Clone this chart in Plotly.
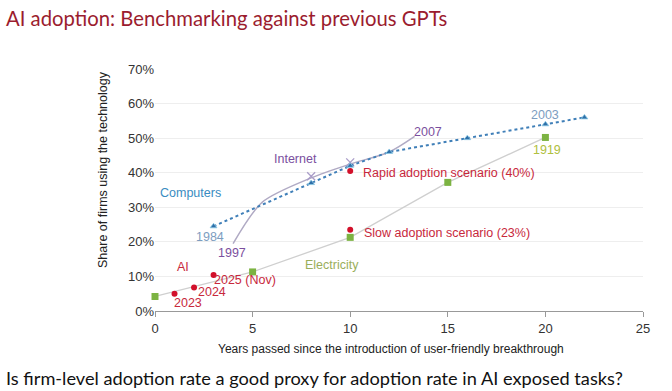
import plotly.graph_objects as go

# ---- data ----
computers_x = [3, 8, 10, 12, 16, 20, 22]
computers_y = [24.5, 37, 42, 46, 50, 54, 56]

internet_x = [4, 5.5, 8, 10, 12, 13.3]
internet_y = [19.5, 31.5, 38.5, 42.5, 46, 50.5]
internet_mark_x = [8, 10]
internet_mark_y = [39, 43]

electricity_x = [0, 5, 10, 15, 20]
electricity_y = [4.2, 11.3, 21.3, 37.2, 50.2]

ai_x = [1, 2, 3]
ai_y = [5, 6.8, 10.4]
scenario_x = [10, 10]
scenario_y = [40.5, 23.5]

y_ticks = [0, 10, 20, 30, 40, 50, 60, 70]
y_tick_labels = ["0%", "10%", "20%", "30%", "40%", "50%", "60%", "70%"]
x_ticks = [0, 5, 10, 15, 20, 25]

# text labels: (text, x, y, color, anchor)
labels = [
    ("Computers", 1.8, 34.1, "#3a8cc1", "center"),
    ("1984", 2.8, 21.4, "#7d9dbf", "center"),
    ("2003", 20.0, 56.6, "#7d9dbf", "center"),
    ("Internet", 7.2, 43.9, "#7b4f9e", "center"),
    ("1997", 3.95, 16.8, "#7b4f9e", "center"),
    ("2007", 14.0, 51.9, "#7b4f9e", "center"),
    ("Electricity", 9.05, 13.3, "#9aae5a", "center"),
    ("1900", -0.1, 6.9, "#b0c040", "center"),
    ("1919", 20.1, 46.6, "#b0c040", "center"),
    ("AI", 1.45, 12.8, "#c8283c", "center"),
    ("2023", 1.7, 2.3, "#c8283c", "center"),
    ("2024", 2.9, 5.5, "#c8283c", "center"),
    ("2025 (Nov)", 4.6, 9.0, "#c8283c", "center"),
    ("Rapid adoption scenario (40%)", 10.55, 40.0, "#c8283c", "left"),
    ("Slow adoption scenario (23%)", 10.6, 22.7, "#c8283c", "left"),
]

W, H = 672, 391
L, R, T, B = 155, 29, 69, 80
PW, PH = W - L - R, H - T - B


def px(xp):
    return (xp - L) / PW


def py(yp):
    return (H - B - yp) / PH


fig = go.Figure()

fig.add_trace(go.Scatter(
    x=electricity_x, y=electricity_y, mode="lines+markers",
    line=dict(color="#cfcfcf", width=1.3),
    marker=dict(symbol="square", size=7, color="#7cb342"),
    cliponaxis=False, showlegend=False))

fig.add_trace(go.Scatter(
    x=internet_x, y=internet_y, mode="lines",
    line=dict(color="#b0aac4", width=1.5, shape="spline", smoothing=0.8),
    cliponaxis=False, showlegend=False))

fig.add_trace(go.Scatter(
    x=internet_mark_x, y=internet_mark_y, mode="markers",
    marker=dict(symbol="x-thin", size=8, line=dict(color="#a99cc8", width=1.3)),
    cliponaxis=False, showlegend=False))

fig.add_trace(go.Scatter(
    x=computers_x, y=computers_y, mode="lines+markers",
    line=dict(color="#3f7fb8", width=2, dash="dot"),
    marker=dict(symbol="triangle-up", size=6, color="#2e6fa8",
                line=dict(color="#8ecae6", width=0.8)),
    cliponaxis=False, showlegend=False))

fig.add_trace(go.Scatter(
    x=ai_x + scenario_x, y=ai_y + scenario_y, mode="markers",
    marker=dict(symbol="circle", size=6, color="#d2102a"),
    cliponaxis=False, showlegend=False))

for text, lx, ly, col, anc in labels:
    fig.add_annotation(x=lx, y=ly, text=text, showarrow=False,
                       xanchor=anc, yanchor="middle",
                       font=dict(family="Liberation Sans", size=12.5, color=col))

# titles
fig.add_annotation(x=px(4), y=py(18), xref="paper", yref="paper",
                   xanchor="left", yanchor="middle", showarrow=False,
                   text="AI adoption: Benchmarking against previous GPTs",
                   font=dict(family="Lato", size=20.3, color="#9b1c2e"))
fig.add_annotation(x=px(4), y=py(378), xref="paper", yref="paper",
                   xanchor="left", yanchor="middle", showarrow=False,
                   text="Is firm-level adoption rate a good proxy for adoption rate in AI exposed tasks?",
                   font=dict(family="Lato", size=18.2, color="#111111"))
fig.add_annotation(x=px(391), y=py(349), xref="paper", yref="paper",
                   xanchor="center", yanchor="middle", showarrow=False,
                   text="Years passed since the introduction of user-friendly breakthrough",
                   font=dict(family="Liberation Sans", size=12, color="#222222"))
fig.add_annotation(x=px(103), y=py(170), xref="paper", yref="paper",
                   xanchor="center", yanchor="middle", showarrow=False, textangle=-90,
                   text="Share of firms using the technology",
                   font=dict(family="Liberation Sans", size=12.5, color="#222222"))

fig.update_layout(
    width=W, height=H,
    margin=dict(l=L, r=R, t=T, b=B, autoexpand=False),
    paper_bgcolor="white", plot_bgcolor="white",
    font=dict(family="Liberation Sans", size=13, color="#333333"),
    xaxis=dict(range=[0, 25], tickvals=x_ticks, showgrid=False, zeroline=False,
               showline=True, linecolor="#999999", linewidth=1.2,
               ticks="outside", ticklen=5, tickcolor="#999999", automargin=False,
               tickfont=dict(size=13, color="#333333")),
    yaxis=dict(range=[0, 70], tickvals=y_ticks, ticktext=y_tick_labels,
               showgrid=True, gridcolor="#eeeeee", zeroline=False, showline=False,
               ticks="", automargin=False, tickfont=dict(size=13, color="#333333")),
)

fig.write_html("out.html", config={"displayModeBar": False},
               post_script="document.body.style.margin='0';document.body.style.overflow='hidden';")
